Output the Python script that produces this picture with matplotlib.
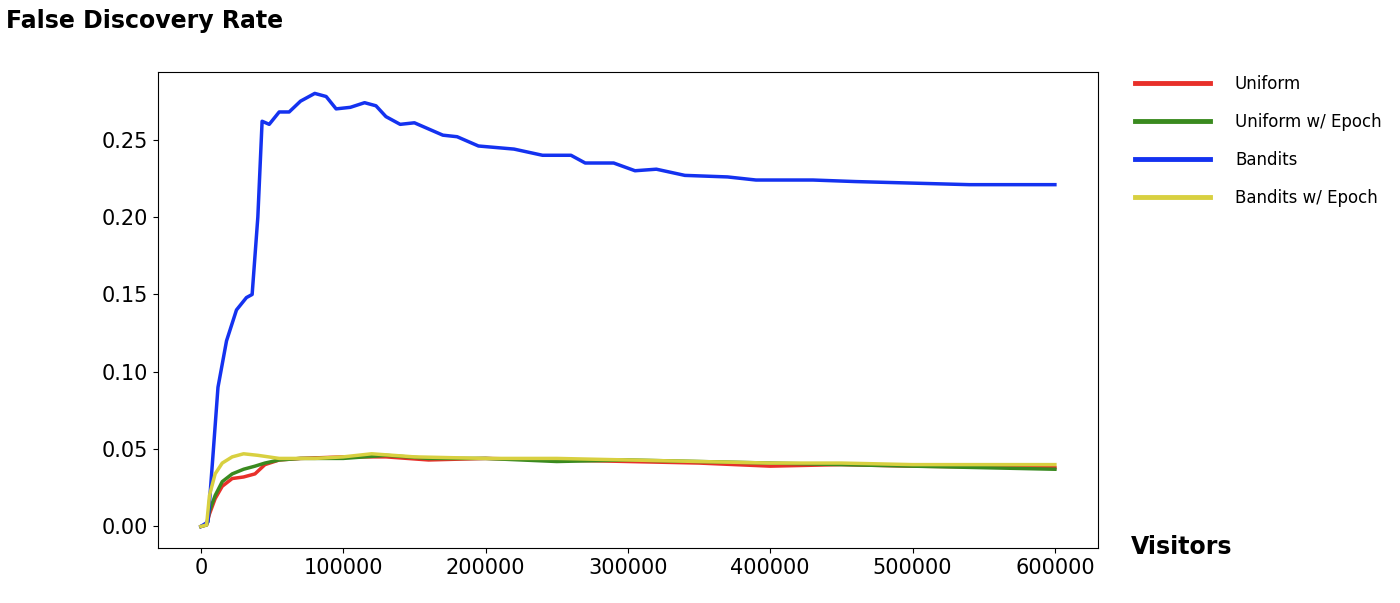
import matplotlib.pyplot as plt
import numpy as np

# Values
bandits_x = [0, 5000, 8000, 12000, 18000, 25000, 32000, 36000, 40000, 43000, 48000, 55000,
             62000, 70000, 80000, 88000, 95000, 105000, 115000, 123000, 130000, 140000,
             150000, 160000, 170000, 180000, 195000, 220000, 240000, 260000, 270000,
             290000, 305000, 320000, 340000, 370000, 390000, 430000, 460000, 500000,
             540000, 600000]
bandits_y = [0.0, 0.003, 0.04, 0.09, 0.12, 0.14, 0.148, 0.15, 0.2, 0.262, 0.26, 0.268,
             0.268, 0.275, 0.28, 0.278, 0.27, 0.271, 0.274, 0.272, 0.265, 0.26,
             0.261, 0.257, 0.253, 0.252, 0.246, 0.244, 0.24, 0.24, 0.235,
             0.235, 0.23, 0.231, 0.227, 0.226, 0.224, 0.224, 0.223, 0.222,
             0.221, 0.221]

uni_x = [0, 4000, 6000, 10000, 15000, 22000, 30000, 38000, 45000, 55000, 70000, 100000,
         130000, 160000, 200000, 250000, 300000, 350000, 400000, 450000, 500000, 600000]
uni_y = [0.0, 0.001, 0.008, 0.018, 0.026, 0.031, 0.032, 0.034, 0.04, 0.043, 0.044, 0.045,
         0.045, 0.043, 0.044, 0.043, 0.042, 0.041, 0.039, 0.040, 0.039, 0.038]

uniep_x = [0, 4000, 6000, 10000, 15000, 22000, 30000, 38000, 45000, 55000, 70000, 100000,
           130000, 160000, 200000, 250000, 300000, 350000, 400000, 450000, 500000, 600000]
uniep_y = [0.0, 0.001, 0.01, 0.02, 0.029, 0.034, 0.037, 0.039, 0.041, 0.043, 0.044, 0.044,
           0.046, 0.044, 0.044, 0.042, 0.043, 0.042, 0.041, 0.040, 0.039, 0.037]

banep_x = [0, 4000, 6000, 10000, 15000, 22000, 30000, 40000, 55000, 80000, 100000, 120000,
           150000, 200000, 250000, 300000, 350000, 400000, 450000, 500000, 600000]
banep_y = [0.0, 0.001, 0.02, 0.034, 0.041, 0.045, 0.047, 0.046, 0.044, 0.044, 0.045, 0.047,
           0.045, 0.044, 0.044, 0.043, 0.042, 0.041, 0.041, 0.040, 0.040]

fig = plt.figure(figsize=(14, 6.03), dpi=100)
ax = fig.add_axes([0.113, 0.091, 0.671, 0.79])

ax.plot(uni_x, uni_y, color='#e8302a', lw=2.5, label='Uniform')
ax.plot(uniep_x, uniep_y, color='#3a8a1f', lw=2.5, label='Uniform w/ Epoch')
ax.plot(bandits_x, bandits_y, color='#1432f0', lw=2.5, label='Bandits')
ax.plot(banep_x, banep_y, color='#d8d040', lw=2.5, label='Bandits w/ Epoch')

ax.set_xlim(-30000, 630000)
ax.set_ylim(-0.014, 0.294)
ax.set_xticks(np.arange(0, 600001, 100000))
ax.set_yticks(np.arange(0, 0.26, 0.05))
ax.set_yticklabels([f'{v:.2f}' for v in np.arange(0, 0.26, 0.05)])
ax.tick_params(labelsize=15)

leg = fig.legend(loc='upper left', bbox_to_anchor=(0.80, 0.9), frameon=False,
                 fontsize=12, handlelength=4.5, labelspacing=1.2, handletextpad=1.5)
for line in leg.get_lines():
    line.set_linewidth(3.5)

fig.text(0.004, 0.965, 'False Discovery Rate', fontsize=17, fontweight='bold', va='center')
fig.text(0.808, 0.093, 'Visitors', fontsize=17, fontweight='bold', va='center')

plt.savefig('out.png', dpi=100)
